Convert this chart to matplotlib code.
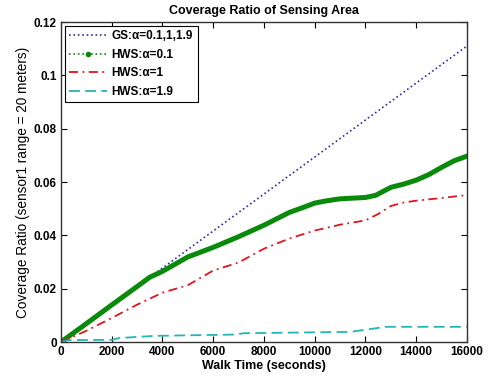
import matplotlib
matplotlib.use('Agg')
import matplotlib.pyplot as plt
from matplotlib.lines import Line2D
from matplotlib.ticker import FuncFormatter

# GS curve (identical for all alpha values)
gs_time = [0, 16000]
gs_ratio = [0, 0.111]

# HWS, alpha = 0.1
hws01_time = [0, 1000, 2000, 3000, 3500, 4000, 5000, 6000, 7000, 8000, 9000, 9500,
              10000, 10500, 11000, 12000, 12400, 13000, 13500, 14000, 14500, 15000,
              15500, 16000]
hws01_ratio = [0, 0.0069, 0.0139, 0.0208, 0.0243, 0.0265, 0.0319, 0.0355, 0.0395,
               0.0438, 0.0486, 0.0503, 0.0521, 0.0530, 0.0537, 0.0542, 0.0550, 0.0580,
               0.0592, 0.0607, 0.0628, 0.0655, 0.0680, 0.0697]

# HWS, alpha = 1
hws1_time = [0, 1000, 2000, 3000, 4000, 5000, 6000, 7000, 8000, 9000, 10000, 11000,
             12000, 12500, 13000, 13500, 14000, 15000, 16000]
hws1_ratio = [0, 0.0042, 0.0090, 0.0140, 0.0185, 0.0213, 0.0268, 0.0298, 0.0350,
              0.0388, 0.0418, 0.0440, 0.0456, 0.0480, 0.0510, 0.0523, 0.0530, 0.0540,
              0.0551]

# HWS, alpha = 1.9
hws19_time = [0, 300, 2000, 2300, 3700, 6900, 7200, 11400, 12000, 12800, 16000]
hws19_ratio = [0, 0.0007, 0.0008, 0.0015, 0.0023, 0.0028, 0.0033, 0.0038, 0.0046,
               0.0057, 0.0057]

x_ticks = [0, 2000, 4000, 6000, 8000, 10000, 12000, 14000, 16000]
y_ticks = [0, 0.02, 0.04, 0.06, 0.08, 0.1, 0.12]

BLUE = '#2b2bb8'
GREEN = '#0a8a0a'
RED = '#e0141e'
CYAN = '#22b5b5'

plt.rcParams['font.family'] = ['Liberation Sans', 'DejaVu Sans']

fig = plt.figure(figsize=(4.89, 3.82), dpi=100)
fig.patch.set_facecolor('white')
ax = fig.add_axes([0.1247, 0.1047, 0.8303, 0.8377])

ax.plot(gs_time, gs_ratio, color=BLUE, linestyle=':', linewidth=1.2)
ax.plot(hws01_time, hws01_ratio, color=GREEN, linestyle='-', linewidth=3.6,
        solid_joinstyle='round')
ax.plot(hws1_time, hws1_ratio, color=RED, linewidth=1.3, dashes=(5, 2.5, 1, 2.5))
ax.plot(hws19_time, hws19_ratio, color=CYAN, linewidth=1.3, dashes=(6, 3))

ax.set_xlim(0, 16000)
ax.set_ylim(0, 0.12)
ax.set_xticks(x_ticks)
ax.set_yticks(y_ticks)
ax.yaxis.set_major_formatter(FuncFormatter(lambda v, p: '%g' % v))
ax.tick_params(direction='in', top=True, right=True, length=4, width=0.8,
               labelsize=8.5, pad=3)
for lbl in ax.get_xticklabels() + ax.get_yticklabels():
    lbl.set_fontweight('bold')

for spine in ax.spines.values():
    spine.set_color('#333333')
    spine.set_linewidth(1)

ax.set_title('Coverage Ratio of Sensing Area', fontsize=9, fontweight='bold', pad=6)
ax.set_xlabel('Walk Time (seconds)', fontsize=9, fontweight='bold', labelpad=1)
ax.set_ylabel('Coverage Ratio (sensor1 range = 20 meters)', fontsize=9.8, labelpad=3)

handles = [
    Line2D([], [], color=BLUE, linestyle=':', linewidth=1.2),
    Line2D([], [], color=GREEN, linestyle=':', linewidth=1.2, marker='.',
           markersize=6, markevery=[1]),
    Line2D([], [], color=RED, linewidth=1.3, dashes=(5, 2.5, 1, 2.5)),
    Line2D([], [], color=CYAN, linewidth=1.3, dashes=(6, 3)),
]
labels = ['GS:\u03b1=0.1,1,1.9', 'HWS:\u03b1=0.1', 'HWS:\u03b1=1', 'HWS:\u03b1=1.9']
leg = ax.legend(handles, labels, loc='upper left', fancybox=False, framealpha=1,
                edgecolor='black', borderaxespad=0.3, handlelength=3.2,
                handletextpad=0.4, labelspacing=0.55,
                prop={'weight': 'bold', 'size': 8.5})
leg.get_frame().set_linewidth(0.8)

fig.savefig('out.png', dpi=100, facecolor='white')
